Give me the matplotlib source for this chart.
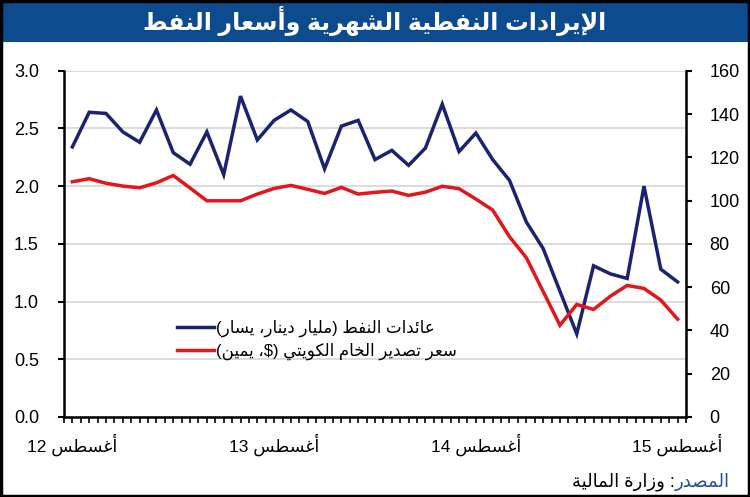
import re
import numpy as np
import matplotlib
matplotlib.use('Agg')
import matplotlib.pyplot as plt
from matplotlib.patches import Rectangle

plt.rcParams['font.family'] = ['Liberation Sans', 'DejaVu Sans']

# monthly data, Aug 2012 .. Aug 2015
revenue = [2.34, 2.64, 2.63, 2.47, 2.38, 2.66, 2.29, 2.19, 2.47, 2.10,
           2.78, 2.40, 2.57, 2.66, 2.56, 2.15, 2.52, 2.57, 2.23, 2.31,
           2.18, 2.33, 2.71, 2.30, 2.46, 2.23, 2.05, 1.69, 1.46, 1.09,
           0.72, 1.31, 1.24, 1.20, 2.00, 1.28, 1.17]
price = [108.7, 110.1, 108.0, 106.7, 105.9, 108.2, 111.6, 105.8, 99.9, 99.9,
         99.9, 103.0, 105.6, 107.0, 105.2, 103.3, 106.1, 103.0, 103.8, 104.4,
         102.4, 103.9, 106.6, 105.5, 100.7, 95.6, 83.3, 73.6, 58.0, 42.4,
         52.0, 49.7, 55.8, 60.8, 59.4, 54.0, 45.2]
tick_pos = [0, 12, 24, 36]
tick_years = ['12', '13', '14', '15']

title = 'الإيرادات النفطية الشهرية وأسعار النفط'
lbl_rev = 'عائدات النفط (مليار دينار، يسار)'
lbl_price = 'سعر تصدير الخام الكويتي ($، يمين)'
month = 'أغسطس'

# --- minimal arabic shaping (presentation forms) + rtl ordering ---
AR = {
    'ا': (0xFE8D, 0xFE8E, None, None), 'أ': (0xFE83, 0xFE84, None, None),
    'إ': (0xFE87, 0xFE88, None, None), 'ئ': (0xFE89, 0xFE8A, 0xFE8B, 0xFE8C),
    'ب': (0xFE8F, 0xFE90, 0xFE91, 0xFE92), 'ة': (0xFE93, 0xFE94, None, None),
    'ت': (0xFE95, 0xFE96, 0xFE97, 0xFE98), 'خ': (0xFEA5, 0xFEA6, 0xFEA7, 0xFEA8),
    'د': (0xFEA9, 0xFEAA, None, None), 'ر': (0xFEAD, 0xFEAE, None, None),
    'ز': (0xFEAF, 0xFEB0, None, None), 'س': (0xFEB1, 0xFEB2, 0xFEB3, 0xFEB4),
    'ش': (0xFEB5, 0xFEB6, 0xFEB7, 0xFEB8), 'ص': (0xFEB9, 0xFEBA, 0xFEBB, 0xFEBC),
    'ط': (0xFEC1, 0xFEC2, 0xFEC3, 0xFEC4), 'ع': (0xFEC9, 0xFECA, 0xFECB, 0xFECC),
    'غ': (0xFECD, 0xFECE, 0xFECF, 0xFED0), 'ف': (0xFED1, 0xFED2, 0xFED3, 0xFED4),
    'ك': (0xFED9, 0xFEDA, 0xFEDB, 0xFEDC), 'ل': (0xFEDD, 0xFEDE, 0xFEDF, 0xFEE0),
    'م': (0xFEE1, 0xFEE2, 0xFEE3, 0xFEE4), 'ن': (0xFEE5, 0xFEE6, 0xFEE7, 0xFEE8),
    'ه': (0xFEE9, 0xFEEA, 0xFEEB, 0xFEEC), 'و': (0xFEED, 0xFEEE, None, None),
    'ي': (0xFEF1, 0xFEF2, 0xFEF3, 0xFEF4),
}
LAM_ALEF = {'ا': (0xFEFB, 0xFEFC), 'أ': (0xFEF7, 0xFEF8), 'إ': (0xFEF9, 0xFEFA)}


def shape(s):
    res = []
    prev = None
    i = 0
    while i < len(s):
        c = s[i]
        before = prev is not None and AR[prev][2] is not None
        if c == 'ل' and i + 1 < len(s) and s[i + 1] in LAM_ALEF:
            res.append(chr(LAM_ALEF[s[i + 1]][1 if before else 0]))
            prev = 'ا'
            i += 2
            continue
        if c in AR:
            iso, fin, ini, med = AR[c]
            nxt = s[i + 1] if i + 1 < len(s) else None
            after = ini is not None and nxt in AR
            if before and after:
                f = med
            elif before:
                f = fin
            elif after:
                f = ini
            else:
                f = iso
            res.append(chr(f))
            prev = c
        else:
            res.append(c)
            prev = None
        i += 1
    return ''.join(res)


def ar(s):
    s = shape(s)
    runs = re.findall(r'[0-9A-Za-z.]+|[^0-9A-Za-z.]+', s)
    out = []
    for r in reversed(runs):
        if re.match(r'[0-9A-Za-z.]', r):
            out.append(r)
        else:
            out.append(''.join({'(': ')', ')': '('}.get(c, c) for c in reversed(r)))
    return ''.join(out)


x = np.arange(len(revenue))

fig = plt.figure(figsize=(7.5, 4.97), dpi=100)
ax = fig.add_axes([0.0853, 0.161, 0.8294, 0.6967])
ax2 = ax.twinx()

l1, = ax.plot(x, revenue, color='#1b2371', lw=2.5, solid_joinstyle='miter')
l2, = ax2.plot(x, price, color='#e3161c', lw=2.5, solid_joinstyle='miter')

ax.set_xlim(-0.5, 36.5)
ax.set_ylim(0, 3)
ax2.set_ylim(0, 160)
ax.set_yticks(np.arange(0, 3.01, 0.5))
ax.set_yticklabels(['%.1f' % v for v in np.arange(0, 3.01, 0.5)])
ax2.set_yticks(range(0, 161, 20))
ax.set_xticks(tick_pos)
ax.set_xticklabels([ar(month + ' ' + y) for y in tick_years])
ax.set_xticks(np.arange(-0.5, 36.6, 0.5), minor=True)

ax.grid(axis='y', color='#d9d9d9', lw=1.3)
ax.set_axisbelow(True)

for a in (ax, ax2):
    for s in a.spines.values():
        s.set_linewidth(1.8)
    a.spines['top'].set_visible(False)
ax2.spines['left'].set_visible(False)
ax2.spines['bottom'].set_visible(False)
ax.spines['right'].set_visible(False)

ax.tick_params(axis='y', direction='out', length=4, width=1.5, pad=14, labelsize=13)
ax2.tick_params(axis='y', direction='out', length=4, width=1.5, pad=13, labelsize=13)
ax.tick_params(axis='x', which='both', direction='out', length=4, width=1.2, pad=8, labelsize=12.5)

ax2.legend([l1, l2], [ar(lbl_rev), ar(lbl_price)], loc='upper left',
           bbox_to_anchor=(0.158, 0.325), frameon=False, fontsize=12,
           handlelength=2.2, handletextpad=0.15, labelspacing=0.35)

# title band
fig.patches.append(Rectangle((0, 1 - 42 / 497), 1, 42 / 497, transform=fig.transFigure,
                             facecolor='#0c4b8e', edgecolor='none', zorder=0))
fig.text(0.5, 1 - 21 / 497, ar(title), color='white', fontsize=17, fontweight='bold',
         ha='center', va='center')

# source line
r = fig.canvas.get_renderer()
t_src = fig.text(0.973, 1 - 482 / 497, ar('المصدر'), color='#1f4fa0', fontsize=13,
                 ha='right', va='center')
w = t_src.get_window_extent(renderer=r).width / fig.bbox.width
fig.text(0.973 - w, 1 - 482 / 497, ar('وزارة المالية') + ' :', color='black', fontsize=13,
         ha='right', va='center')

# outer frame
fig.patches.append(Rectangle((0.0015, 0.002), 0.997, 0.996, transform=fig.transFigure,
                             facecolor='none', edgecolor='black', lw=2.5, zorder=10))

fig.savefig('out.png', dpi=100)
